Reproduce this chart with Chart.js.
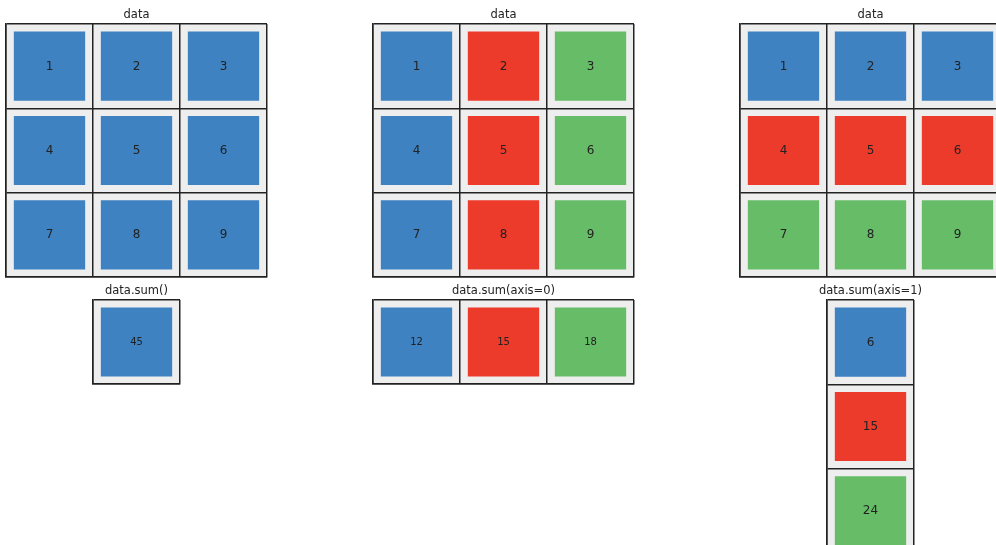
<!DOCTYPE html>
<html>
<head>
<meta charset="utf-8">
<script src="https://cdn.jsdelivr.net/npm/chart.js@4"></script>
<style>
  html, body { margin: 0; padding: 0; background: #fff; overflow: hidden; }
  body { width: 996px; height: 545px; position: relative; }
  canvas { position: absolute; }
</style>
</head>
<body>
<canvas id="data1"></canvas>
<canvas id="data2"></canvas>
<canvas id="data3"></canvas>
<canvas id="sumAll"></canvas>
<canvas id="sumAxis0"></canvas>
<canvas id="sumAxis1"></canvas>
<script>
// values
var data = [[1, 2, 3], [4, 5, 6], [7, 8, 9]];
var sumAll = [[45]];
var sumAxis0 = [[12, 15, 18]];
var sumAxis1 = [[6], [15], [24]];

var titles = ['data', 'data', 'data', 'data.sum()', 'data.sum(axis=0)', 'data.sum(axis=1)'];
var palette = ['#3e82c2', '#ec3a2b', '#67bd67'];

var CELL_W = 87, CELL_H = 84.4, TOP = 24, PAD = 2, SIDE = 30;

// draws the number in the middle of every coloured square
var labelPlugin = {
  id: 'cellLabels',
  afterDatasetsDraw: function(chart) {
    var ctx = chart.ctx;
    var opts = chart.config.options.plugins.cellLabels;
    ctx.save();
    ctx.fillStyle = '#222';
    ctx.font = opts.size + 'px "DejaVu Sans"';
    ctx.textAlign = 'center';
    ctx.textBaseline = 'middle';
    chart.data.datasets.forEach(function(ds, i) {
      if (ds.row == undefined) return;
      chart.getDatasetMeta(i).data.forEach(function(bar, c) {
        var p = bar.getCenterPoint();
        ctx.fillText(String(opts.rows[ds.row][c]), p.x, p.y + 0.5);
      });
    });
    // title above the grid, not squeezed to the grid width
    var a = chart.chartArea;
    ctx.font = '11.5px "DejaVu Sans"';
    ctx.fillText(opts.title, (a.left + a.right) / 2, a.top - 9);
    ctx.restore();
  }
};

// grey background behind the cells
var bgPlugin = {
  id: 'cellBg',
  beforeDraw: function(chart) {
    var a = chart.chartArea;
    chart.ctx.save();
    chart.ctx.fillStyle = '#eeeeee';
    chart.ctx.fillRect(a.left, a.top, a.right - a.left, a.bottom - a.top);
    chart.ctx.restore();
  }
};

function makeGrid(id, rows, colorOf, fontSize, title, gx, gy) {
  var nRows = rows.length, nCols = rows[0].length;
  var canvas = document.getElementById(id);
  canvas.width = nCols * CELL_W + SIDE * 2;
  canvas.height = TOP + nRows * CELL_H + PAD;
  canvas.style.left = (gx - SIDE) + 'px';
  canvas.style.top = (gy - TOP) + 'px';

  var labels = [];
  for (var c = 0; c < nCols; c++) labels.push('c' + c);

  var datasets = rows.map(function(row, r) {
    return {
      row: r,
      data: row.map(function() { return [r + 0.09, r + 0.91]; }),
      backgroundColor: row.map(function(v, c) { return colorOf(r, c); }),
      borderWidth: 0,
      grouped: false,
      categoryPercentage: 1,
      barPercentage: 0.82
    };
  });

  return new Chart(canvas, {
    type: 'bar',
    data: { labels: labels, datasets: datasets },
    options: {
      responsive: false,
      animation: false,
      layout: { padding: { left: SIDE, right: SIDE, top: TOP, bottom: PAD } },
      plugins: {
        legend: { display: false },
        tooltip: { enabled: false },
        title: { display: false },
        cellLabels: { rows: rows, size: fontSize, title: title }
      },
      scales: {
        x: {
          type: 'category',
          offset: true,
          grid: { offset: true, color: '#222', lineWidth: 1.5, drawTicks: false },
          border: { display: true, color: '#222', width: 1.5 },
          ticks: { display: false }
        },
        y: {
          min: 0, max: nRows, reverse: true,
          grid: { color: '#222', lineWidth: 1.5, drawTicks: false },
          border: { display: true, color: '#222', width: 1.5 },
          ticks: { display: false, stepSize: 1 }
        }
      }
    },
    plugins: [bgPlugin, labelPlugin]
  });
}

makeGrid('data1', data, function() { return palette[0]; }, 12, titles[0], 6, 24);
makeGrid('data2', data, function(r, c) { return palette[c]; }, 12, titles[1], 373, 24);
makeGrid('data3', data, function(r, c) { return palette[r]; }, 12, titles[2], 740, 24);
makeGrid('sumAll', sumAll, function() { return palette[0]; }, 10, titles[3], 93, 300);
makeGrid('sumAxis0', sumAxis0, function(r, c) { return palette[c]; }, 10, titles[4], 373, 300);
makeGrid('sumAxis1', sumAxis1, function(r, c) { return palette[r]; }, 12, titles[5], 827, 300);
</script>
</body>
</html>
